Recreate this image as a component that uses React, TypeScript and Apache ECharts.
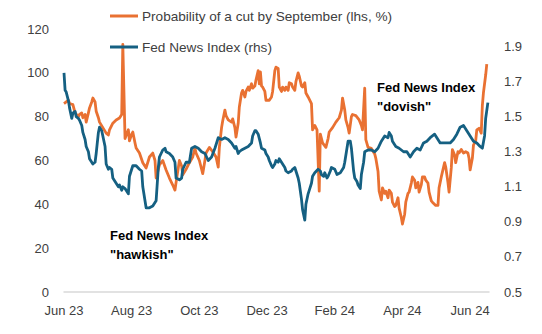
import React, { useEffect, useRef } from "react";
import * as echarts from "echarts";

// Days since 1 Jun 2023
const X_LABELS = ["Jun 23", "Aug 23", "Oct 23", "Dec 23", "Feb 24", "Apr 24", "Jun 24"];

const probDays = [
  0, 4, 5, 8, 10, 13, 14, 16, 17, 19, 20, 22, 23, 25, 26, 28, 29, 31, 32, 35, 38, 40, 41, 44, 47, 50, 52, 53, 55,
  58, 59, 61, 62, 64, 65, 68, 71, 74, 77, 80, 82, 83, 85, 86, 89, 92, 95, 98, 100, 101, 104, 106, 107, 110, 113,
  116, 118, 119, 122, 124, 125, 127, 128, 131, 134, 137, 139, 140, 142, 143, 145, 146, 148, 151, 152, 154, 155,
  157, 158, 160, 161, 163, 164, 166, 167, 169, 170, 172, 173, 175, 176, 177, 178, 179, 181, 182, 185, 187, 188,
  190, 191, 193, 194, 196, 197, 199, 200, 202, 203, 205, 206, 208, 209, 211, 212, 214, 215, 217, 218, 220, 221,
  223, 224, 226, 228, 230, 231, 233, 236, 238, 239, 242, 245, 248, 250, 251, 253, 254, 256, 257, 259, 260, 263,
  266, 268, 269, 271, 272, 274, 277, 280, 281, 283, 284, 286, 287, 289, 290, 292, 293, 295, 296, 298, 299, 301,
  302, 304, 305, 307, 308, 310, 311, 313, 314, 316, 317, 319, 320, 322, 323, 325, 326, 328, 329, 331, 332, 335,
  337, 338, 340, 341, 343, 344, 346, 347, 349, 350, 352, 353, 355, 356, 358, 360, 362, 364, 365, 366, 368, 369,
  371, 372, 374, 376, 377, 378, 380, 381,
];
const probValues = [
  86, 87.5, 86, 85.5, 81.7, 80, 81, 81.7, 79.5, 81, 77.5, 81.7, 84, 86.7, 88.5, 86.7, 82.5, 79.5, 77.5, 75, 72.5,
  71.6, 74, 77, 78.5, 79.4, 81, 113, 70, 74, 69, 72, 73, 68, 65.7, 63.4, 59, 56.6, 61.6, 63.4, 60, 52, 56, 58, 60,
  55.7, 52, 48.8, 46.5, 50, 60, 57.5, 53.5, 56, 59, 61.6, 65.7, 63.4, 60, 56, 54, 60, 63.4, 66, 64, 61.6, 57, 66,
  75, 78, 83, 80.5, 78.5, 77.5, 79, 75, 70.7, 77, 84.4, 90.8, 92, 89, 91.5, 93.5, 92, 95, 93, 94, 96.7, 101, 95,
  100.4, 94, 93.5, 91.5, 87.5, 87.5, 89, 91.5, 101, 102.6, 102, 93.5, 91.5, 93.5, 92, 93.5, 92, 95.5, 95, 93.5, 92,
  96, 100, 98.5, 94, 93.5, 95.5, 90.8, 89, 88, 86, 74, 76, 74, 46, 72, 68, 66, 70, 73, 75, 77.5, 79.5, 83, 88.5,
  83, 78.5, 75, 72.5, 80, 81, 80.5, 78.5, 76, 74, 93, 69.5, 66, 65.5, 63, 61, 55, 46, 42, 47.5, 45, 46, 43, 46.5,
  45, 41, 39, 39.5, 43, 38.3, 34, 31, 35.5, 41, 45, 45.6, 49.7, 52.5, 51, 47.5, 50, 45.6, 49, 52.5, 52.5, 51, 49.7,
  45.6, 41.6, 41, 39.5, 39.5, 47.5, 52.5, 54.7, 59, 57, 50, 45.6, 56.6, 65, 62.5, 59, 64, 63.4, 65, 63.4, 64, 63.4,
  61, 55.7, 61, 67, 69, 74, 74.7, 72.5, 85, 91, 99, 104,
];

const newsDays = [
  0, 1, 2, 4, 5, 7, 8, 10, 11, 13, 14, 16, 17, 19, 20, 22, 23, 25, 26, 28, 29, 31, 32, 34, 35, 37, 38, 40, 41, 43,
  44, 46, 47, 49, 50, 52, 53, 55, 56, 58, 59, 61, 62, 65, 68, 70, 71, 73, 74, 77, 80, 83, 85, 86, 89, 91, 92, 95,
  98, 100, 101, 104, 106, 107, 110, 113, 115, 118, 121, 124, 127, 130, 133, 136, 139, 142, 145, 148, 151, 154, 155,
  157, 158, 160, 163, 166, 169, 170, 172, 173, 175, 177, 178, 181, 182, 184, 185, 187, 188, 190, 191, 193, 194, 196,
  197, 199, 200, 202, 205, 206, 208, 209, 211, 212, 214, 215, 217, 218, 220, 221, 223, 224, 226, 229, 231, 232, 234,
  235, 237, 238, 240, 241, 244, 246, 249, 252, 253, 255, 256, 258, 259, 261, 262, 264, 265, 267, 268, 270, 271, 274,
  277, 280, 283, 286, 289, 292, 293, 295, 296, 299, 302, 306, 309, 312, 315, 318, 321, 324, 327, 330, 334, 336, 339,
  342, 345, 348, 351, 354, 357, 360, 363, 366, 369, 372, 375, 377, 379, 380, 382,
];
const newsValues = [
  1.75, 1.65, 1.64, 1.59, 1.55, 1.49, 1.52, 1.53, 1.5, 1.49, 1.48, 1.45, 1.41, 1.37, 1.33, 1.3, 1.26, 1.24, 1.23,
  1.24, 1.29, 1.41, 1.44, 1.42, 1.39, 1.33, 1.23, 1.2, 1.21, 1.2, 1.15, 1.13, 1.12, 1.1, 1.11, 1.08, 1.1, 1.09,
  1.08, 1.06, 1.16, 1.2, 1.22, 1.22, 1.2, 1.19, 1.1, 1.02, 0.98, 0.98, 0.99, 1.02, 1.21, 1.27, 1.31, 1.32, 1.3,
  1.29, 1.27, 1.24, 1.15, 1.14, 1.15, 1.2, 1.24, 1.24, 1.32, 1.33, 1.32, 1.3, 1.29, 1.25, 1.27, 1.32, 1.38, 1.37,
  1.38, 1.37, 1.35, 1.32, 1.33, 1.29, 1.3, 1.31, 1.32, 1.33, 1.35, 1.39, 1.42, 1.42, 1.4, 1.35, 1.32, 1.31, 1.29,
  1.27, 1.25, 1.22, 1.21, 1.23, 1.25, 1.24, 1.26, 1.24, 1.23, 1.21, 1.19, 1.18, 1.19, 1.2, 1.21, 1.19, 1.15, 1.12,
  1.03, 0.97, 0.91, 1.0, 1.06, 1.08, 1.12, 1.16, 1.18, 1.2, 1.19, 1.17, 1.16, 1.18, 1.15, 1.16, 1.19, 1.21, 1.2,
  1.17, 1.18, 1.21, 1.24, 1.32, 1.36, 1.36, 1.32, 1.19, 1.15, 1.13, 1.11, 1.09, 1.17, 1.24, 1.3, 1.31, 1.31, 1.3,
  1.32, 1.36, 1.39, 1.38, 1.41, 1.39, 1.36, 1.33, 1.32, 1.3, 1.3, 1.27, 1.3, 1.32, 1.31, 1.35, 1.36, 1.38, 1.4,
  1.38, 1.35, 1.35, 1.35, 1.35, 1.37, 1.4, 1.44, 1.45, 1.42, 1.39, 1.36, 1.35, 1.33, 1.32, 1.39, 1.49, 1.58,
];

const PROB_NAME = "Probability of a cut by September (lhs, %)";
const NEWS_NAME = "Fed News Index (rhs)";
const ORANGE = "#E97132";
const BLUE = "#156082";
const FONT = "Liberation Sans";
const LABEL_COLOR = "#404040";

export default function App() {
  const ref = useRef<HTMLDivElement>(null);
  useEffect(() => {
    if (!ref.current) return;
    const chart = echarts.init(ref.current, undefined, { renderer: "svg" });
    chart.setOption({
      animation: false,
      backgroundColor: "#ffffff",
      textStyle: { fontFamily: FONT },
      grid: { left: 64, right: 53, top: 29, bottom: 42 },
      legend: {
        orient: "vertical",
        left: 110,
        top: 8,
        padding: 0,
        itemGap: 15,
        itemWidth: 28,
        itemHeight: 3,
        icon: "rect",
        data: [PROB_NAME, NEWS_NAME],
        textStyle: { fontFamily: FONT, fontSize: 13.6, color: LABEL_COLOR, lineHeight: 16, padding: [0, 0, 0, -1] },
      },
      xAxis: {
        type: "value",
        min: 0,
        max: 383,
        interval: 61,
        axisLine: { show: true, lineStyle: { color: "#D9D9D9", width: 1.5 } },
        axisTick: { show: false },
        splitLine: { show: false },
        axisLabel: {
          margin: 12,
          fontFamily: FONT,
          fontSize: 13,
          color: LABEL_COLOR,
          showMaxLabel: false,
          formatter: (v: number) => X_LABELS[Math.round(v / 61)] ?? "",
        },
      },
      yAxis: [
        {
          type: "value",
          min: 0,
          max: 120,
          interval: 20,
          axisLine: { show: false },
          axisTick: { show: false },
          splitLine: { show: false },
          axisLabel: { margin: 15, fontFamily: FONT, fontSize: 13, color: LABEL_COLOR },
        },
        {
          type: "value",
          min: 0.5,
          max: 2.0,
          interval: 0.2,
          position: "right",
          axisLine: { show: false },
          axisTick: { show: false },
          splitLine: { show: false },
          axisLabel: {
            margin: 15,
            fontFamily: FONT,
            fontSize: 13,
            color: LABEL_COLOR,
            showMaxLabel: false,
            formatter: (v: number) => v.toFixed(1),
          },
        },
      ],
      series: [
        {
          name: PROB_NAME,
          type: "line",
          yAxisIndex: 0,
          symbol: "none",
          showSymbol: false,
          color: ORANGE,
          lineStyle: { color: ORANGE, width: 2.8, join: "round" },
          data: probDays.map((d, i) => [d, probValues[i]]),
          z: 2,
        },
        {
          name: NEWS_NAME,
          type: "line",
          yAxisIndex: 1,
          symbol: "none",
          showSymbol: false,
          color: BLUE,
          lineStyle: { color: BLUE, width: 2.8, join: "round" },
          data: newsDays.map((d, i) => [d, newsValues[i]]),
          z: 3,
        },
      ],
      graphic: [
        {
          type: "text",
          left: 110,
          top: 226,
          style: {
            text: 'Fed News Index\n"hawkish"',
            font: `bold 13px "${FONT}"`,
            lineHeight: 19,
            fill: "#000000",
          },
        },
        {
          type: "text",
          left: 377,
          top: 78,
          style: {
            text: 'Fed News Index\n"dovish"',
            font: `bold 13px "${FONT}"`,
            lineHeight: 19,
            fill: "#000000",
          },
        },
      ],
    });
    return () => chart.dispose();
  }, []);
  return (
    <div
      ref={ref}
      style={{ position: "fixed", left: 0, top: 0, width: 542, height: 334, background: "#fff" }}
    />
  );
}
